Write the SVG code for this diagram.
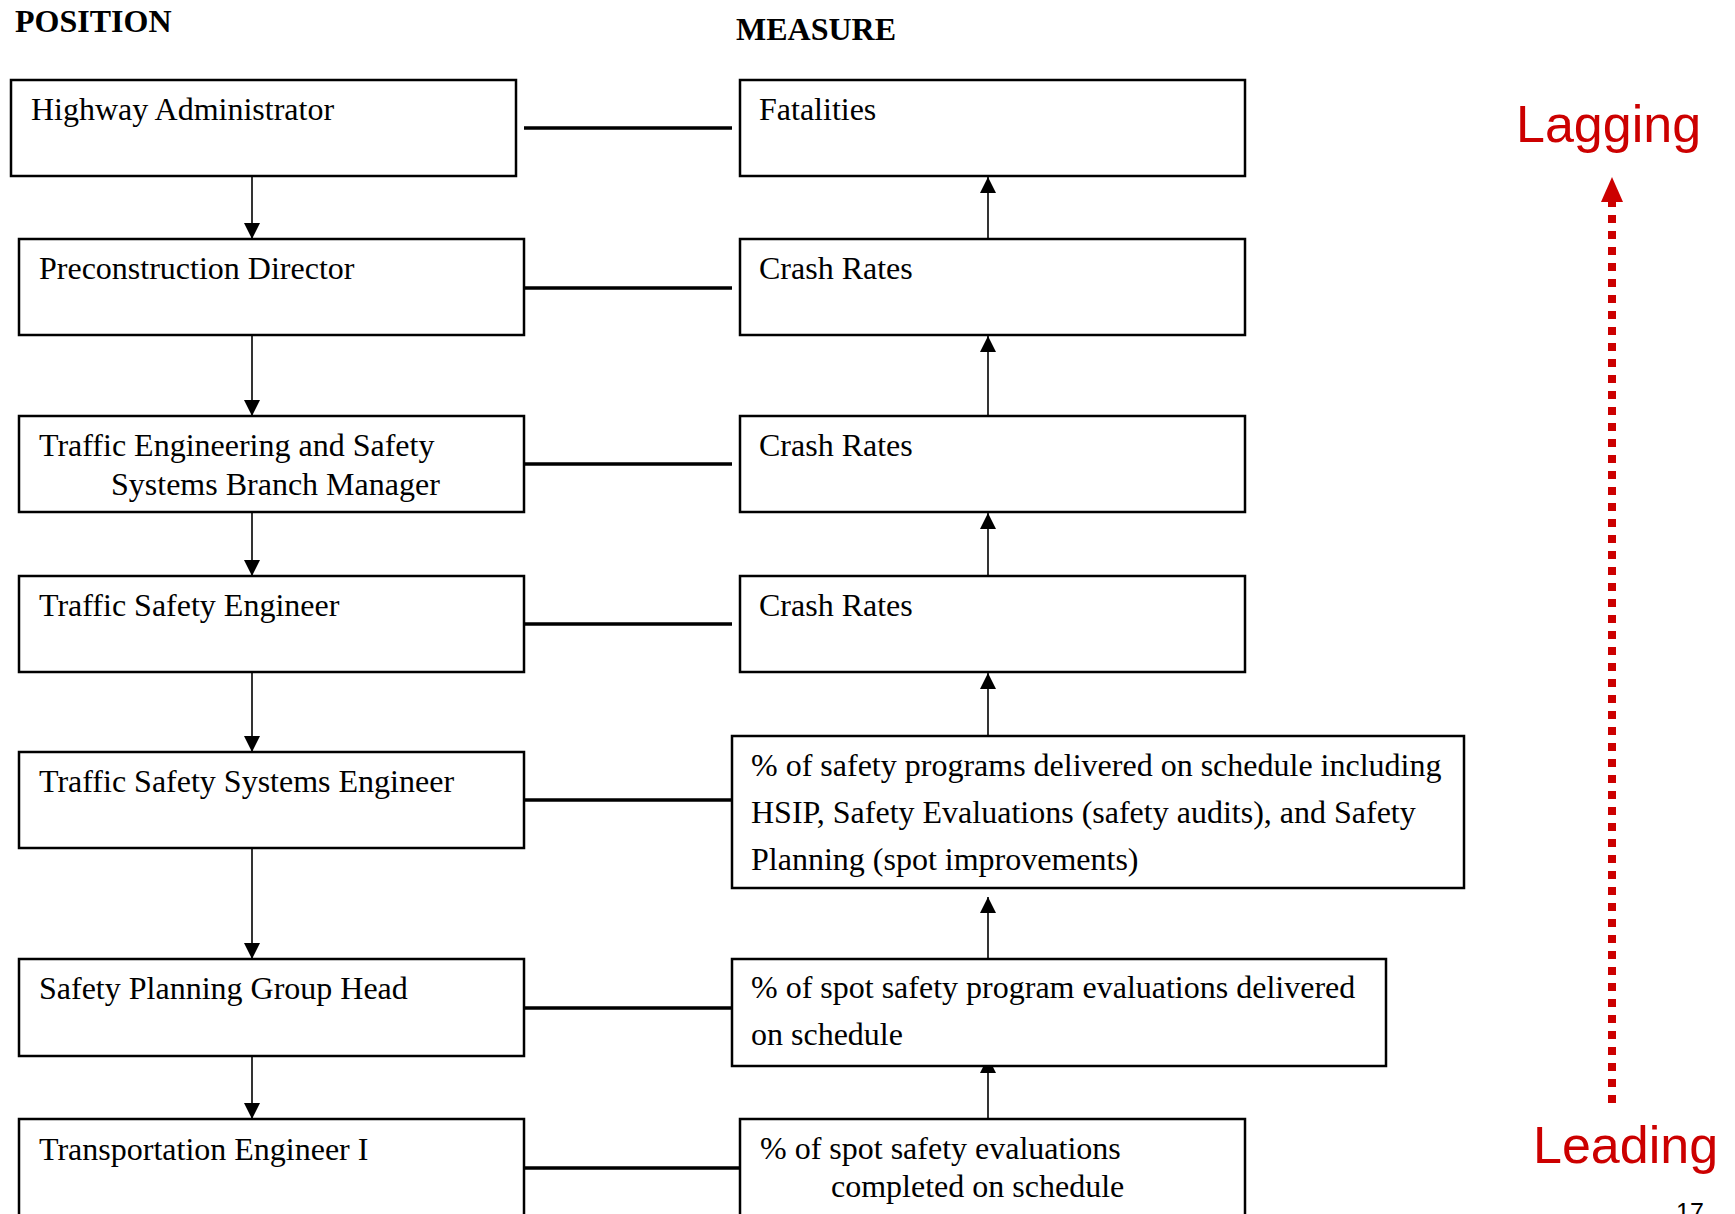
<svg xmlns="http://www.w3.org/2000/svg" width="1735" height="1214" viewBox="0 0 1735 1214">
<style>
.box{fill:#fff;stroke:#000;stroke-width:2.5}
.t{font-family:"Liberation Serif","Times New Roman",serif;font-size:32px;fill:#000}
.h{font-family:"Liberation Serif","Times New Roman",serif;font-size:32px;font-weight:bold;fill:#000}
.red{font-family:"Liberation Sans",Arial,sans-serif;font-size:52px;fill:#CC0000}
.conn{stroke:#000;stroke-width:3.5;fill:none}
.arr{stroke:#000;stroke-width:1.6;fill:none;marker-end:url(#ah)}
</style>
<defs>
<marker id="ah" markerUnits="userSpaceOnUse" markerWidth="16" markerHeight="16" refX="16" refY="8" orient="auto">
<path d="M0,0 L16,8 L0,16 z" fill="#000"/>
</marker>
</defs>
<rect width="1735" height="1214" fill="#fff"/>
<text class="h" x="15" y="32">POSITION</text>
<text class="h" x="736" y="40">MEASURE</text>

<g id="connectors">
<line class="arr" x1="252" y1="176" x2="252" y2="239"/>
<line class="arr" x1="252" y1="335" x2="252" y2="416"/>
<line class="arr" x1="252" y1="512" x2="252" y2="576"/>
<line class="arr" x1="252" y1="672" x2="252" y2="752"/>
<line class="arr" x1="252" y1="848" x2="252" y2="959"/>
<line class="arr" x1="252" y1="1056" x2="252" y2="1119"/>
<line class="arr" x1="988" y1="239" x2="988" y2="177"/>
<line class="arr" x1="988" y1="416" x2="988" y2="336"/>
<line class="arr" x1="988" y1="576" x2="988" y2="513"/>
<line class="arr" x1="988" y1="736" x2="988" y2="673"/>
<line class="arr" x1="988" y1="959" x2="988" y2="897"/>
<line class="arr" x1="988" y1="1119" x2="988" y2="1057"/>
<line class="conn" x1="524" y1="128" x2="732" y2="128"/>
<line class="conn" x1="524" y1="288" x2="732" y2="288"/>
<line class="conn" x1="524" y1="464" x2="732" y2="464"/>
<line class="conn" x1="524" y1="624" x2="732" y2="624"/>
<line class="conn" x1="524" y1="800" x2="732" y2="800"/>
<line class="conn" x1="524" y1="1008" x2="732" y2="1008"/>
<line class="conn" x1="524" y1="1168" x2="740" y2="1168"/>
</g>

<g id="p1"><rect class="box" x="11" y="80" width="505" height="96"/><text class="t" x="31" y="120">Highway Administrator</text></g>
<g id="p2"><rect class="box" x="19" y="239" width="505" height="96"/><text class="t" x="39" y="279">Preconstruction Director</text></g>
<g id="p3"><rect class="box" x="19" y="416" width="505" height="96"/><text class="t" x="39" y="456">Traffic Engineering and Safety</text><text class="t" x="111" y="495">Systems Branch Manager</text></g>
<g id="p4"><rect class="box" x="19" y="576" width="505" height="96"/><text class="t" x="39" y="616">Traffic Safety Engineer</text></g>
<g id="p5"><rect class="box" x="19" y="752" width="505" height="96"/><text class="t" x="39" y="792">Traffic Safety Systems Engineer</text></g>
<g id="p6"><rect class="box" x="19" y="959" width="505" height="97"/><text class="t" x="39" y="999">Safety Planning Group Head</text></g>
<g id="p7"><rect class="box" x="19" y="1119" width="505" height="120"/><text class="t" x="39" y="1160">Transportation Engineer I</text></g>

<g id="m1"><rect class="box" x="740" y="80" width="505" height="96"/><text class="t" x="759" y="120">Fatalities</text></g>
<g id="m2"><rect class="box" x="740" y="239" width="505" height="96"/><text class="t" x="759" y="279">Crash Rates</text></g>
<g id="m3"><rect class="box" x="740" y="416" width="505" height="96"/><text class="t" x="759" y="456">Crash Rates</text></g>
<g id="m4"><rect class="box" x="740" y="576" width="505" height="96"/><text class="t" x="759" y="616">Crash Rates</text></g>
<g id="m5"><rect class="box" x="732" y="736" width="732" height="152"/><text class="t" x="751" y="776">% of safety programs delivered on schedule including</text><text class="t" x="751" y="823">HSIP, Safety Evaluations (safety audits), and Safety</text><text class="t" x="751" y="870">Planning (spot improvements)</text></g>
<g id="m6"><rect class="box" x="732" y="959" width="654" height="107"/><text class="t" x="751" y="998">% of spot safety program evaluations delivered</text><text class="t" x="751" y="1045">on schedule</text></g>
<g id="m7"><rect class="box" x="740" y="1119" width="505" height="120"/><text class="t" x="760" y="1159">% of spot safety evaluations</text><text class="t" x="831" y="1197">completed on schedule</text></g>

<g id="scale">
<line x1="1612" y1="1103" x2="1612" y2="201" stroke="#CC0000" stroke-width="8" stroke-dasharray="8 8"/>
<polygon points="1612,177 1601,202 1623,202" fill="#CC0000"/>
<text class="red" x="1516" y="142">Lagging</text>
<text class="red" x="1533" y="1163">Leading</text>
</g>
<text x="1676" y="1221" font-family="Liberation Sans,Arial,sans-serif" font-size="25" fill="#000">17</text>
</svg>
